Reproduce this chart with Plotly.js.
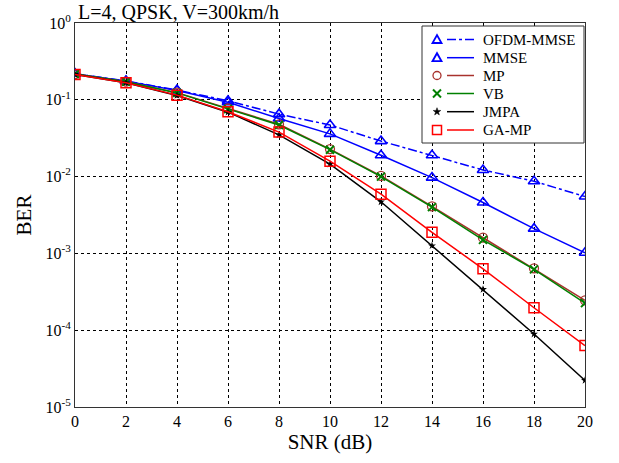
<!DOCTYPE html>
<html>
<head>
<meta charset="utf-8">
<script src="https://cdn.plot.ly/plotly-3.0.1.min.js"></script>
<style>html,body{margin:0;padding:0;background:#fff;}#chart{width:619px;height:463px;}</style>
</head>
<body>
<div id="chart"></div>
<script>
const snr = [0, 2, 4, 6, 8, 10, 12, 14, 16, 18, 20];
const ofdmMmse = [0.218, 0.176, 0.134, 0.097, 0.065, 0.047, 0.029, 0.0190, 0.0122, 0.0087, 0.0055];
const mmse = [0.218, 0.175, 0.132, 0.093, 0.057, 0.036, 0.0190, 0.0097, 0.0046, 0.0021, 0.00102];
const mp = [0.216, 0.172, 0.124, 0.077, 0.048, 0.0228, 0.0102, 0.0041, 0.00160, 0.00064, 0.000245];
const vb = [0.216, 0.172, 0.123, 0.076, 0.047, 0.0224, 0.0100, 0.0040, 0.00150, 0.00062, 0.000225];
const jmpa = [0.214, 0.167, 0.114, 0.069, 0.035, 0.0145, 0.0047, 0.00126, 0.00034, 0.0000892, 0.0000222];
const gamp = [0.214, 0.167, 0.115, 0.070, 0.038, 0.0159, 0.0059, 0.00188, 0.00063, 0.000196, 0.000063];
const seriesNames = ['OFDM-MMSE', 'MMSE', 'MP', 'VB', 'JMPA', 'GA-MP'];
const yTickVals = [1, 0.1, 0.01, 0.001, 0.0001, 0.00001];
const yTickText = ['10<sup>0</sup>', '10<sup>-1</sup>', '10<sup>-2</sup>', '10<sup>-3</sup>', '10<sup>-4</sup>', '10<sup>-5</sup>'];

const font = 'Liberation Serif, Times New Roman, serif';
const colors = ['#0000ff', '#0000ff', '#a8322d', '#008000', '#000000', '#ff0000'];
const dashes = ['dashdot', 'solid', 'solid', 'solid', 'solid', 'solid'];
const symbols = ['triangle-up-open', 'triangle-up-open', 'circle-open', 'x-thin-open', 'star', 'square-open'];
const msizes = [10, 10, 9, 8, 6, 10];
const mwidths = [1.6, 1.6, 1.3, 2, 0, 1.5];
const ys = [ofdmMmse, mmse, mp, vb, jmpa, gamp];

const data = ys.map((y, i) => ({
  x: snr, y: y, name: seriesNames[i], type: 'scatter', mode: 'lines+markers', showlegend: false,
  line: {color: colors[i], width: 1.5, dash: dashes[i]},
  marker: {symbol: symbols[i], size: msizes[i], color: colors[i], line: {color: colors[i], width: mwidths[i]}}
}));

// plot area in pixels (for the hand-built legend box)
const L = 75, T = 23, W = 510, H = 384;
const px = v => (v - L) / W;
const py = v => 1 - (v - T) / H;
const shapes = [];
const annotations = [];
shapes.push({type: 'rect', xref: 'paper', yref: 'paper', x0: px(422), x1: px(584), y0: py(26), y1: py(143),
  line: {color: '#333', width: 1}, fillcolor: '#fff', layer: 'above'});
const rowY = [39.5, 57.7, 75.5, 93.5, 111.7, 130];
const mx = 437;
seriesNames.forEach((nm, i) => {
  const yy = rowY[i];
  const c = colors[i];
  shapes.push({type: 'line', xref: 'paper', yref: 'paper', x0: px(447), x1: px(474), y0: py(yy), y1: py(yy),
    line: {color: c, width: 1.5, dash: dashes[i]}, layer: 'above'});
  const s = symbols[i];
  if (s === 'triangle-up-open') {
    shapes.push({type: 'path', xref: 'paper', yref: 'paper', layer: 'above',
      path: `M ${px(mx-4.5)} ${py(yy+3.5)} L ${px(mx+4.5)} ${py(yy+3.5)} L ${px(mx)} ${py(yy-4.5)} Z`,
      line: {color: c, width: 1.8}});
  } else if (s === 'circle-open') {
    shapes.push({type: 'circle', xref: 'paper', yref: 'paper', layer: 'above',
      x0: px(mx-4), x1: px(mx+4), y0: py(yy-4), y1: py(yy+4), line: {color: c, width: 1.3}});
  } else if (s === 'x-thin-open') {
    shapes.push({type: 'line', xref: 'paper', yref: 'paper', layer: 'above',
      x0: px(mx-4), x1: px(mx+4), y0: py(yy-4), y1: py(yy+4), line: {color: c, width: 2}});
    shapes.push({type: 'line', xref: 'paper', yref: 'paper', layer: 'above',
      x0: px(mx-4), x1: px(mx+4), y0: py(yy+4), y1: py(yy-4), line: {color: c, width: 2}});
  } else if (s === 'star') {
    let p = '';
    for (let k = 0; k < 10; k++) {
      const r = k % 2 === 0 ? 4 : 1.6;
      const a = -Math.PI / 2 + k * Math.PI / 5;
      p += (k === 0 ? 'M ' : ' L ') + px(mx + r * Math.cos(a)) + ' ' + py(yy + r * Math.sin(a));
    }
    shapes.push({type: 'path', xref: 'paper', yref: 'paper', layer: 'above', path: p + ' Z',
      fillcolor: c, line: {color: c, width: 0.5}});
  } else if (s === 'square-open') {
    shapes.push({type: 'rect', xref: 'paper', yref: 'paper', layer: 'above',
      x0: px(mx-4.5), x1: px(mx+4.5), y0: py(yy-4.5), y1: py(yy+4.5), line: {color: c, width: 1.5}});
  }
  annotations.push({xref: 'paper', yref: 'paper', x: px(481), y: py(yy), xanchor: 'left', yanchor: 'middle',
    text: nm, showarrow: false, font: {family: font, size: 15, color: '#000'}});
});

const layout = {
  width: 619, height: 463,
  margin: {l: L, r: 619 - L - W, t: T, b: 463 - T - H},
  paper_bgcolor: '#fff', plot_bgcolor: '#fff',
  font: {family: font, size: 16, color: '#000'},
  showlegend: false,
  title: {text: 'L=4, QPSK, V=300km/h', x: 78/619, xanchor: 'left', y: 1 - 12/463, yanchor: 'middle',
          font: {family: font, size: 20, color: '#000'}},
  xaxis: {
    range: [0, 20], tickvals: snr, ticks: '', showline: true, mirror: true,
    linecolor: '#333', linewidth: 1, showgrid: true, gridcolor: '#000', griddash: 'dot', gridwidth: 1,
    zeroline: false, tickfont: {family: font, size: 16},
    title: {text: 'SNR (dB)', font: {family: font, size: 21}, standoff: 4}
  },
  yaxis: {
    type: 'log', range: [-5, 0], tickvals: yTickVals, ticktext: yTickText, ticks: '',
    showline: true, mirror: true, linecolor: '#333', linewidth: 1,
    showgrid: true, gridcolor: '#000', griddash: 'dot', gridwidth: 1, zeroline: false,
    tickfont: {family: font, size: 16},
    title: {text: 'BER', font: {family: font, size: 21}, standoff: 8}
  },
  shapes: shapes,
  annotations: annotations
};
Plotly.newPlot('chart', data, layout, {displayModeBar: false, staticPlot: true});
</script>
</body>
</html>
